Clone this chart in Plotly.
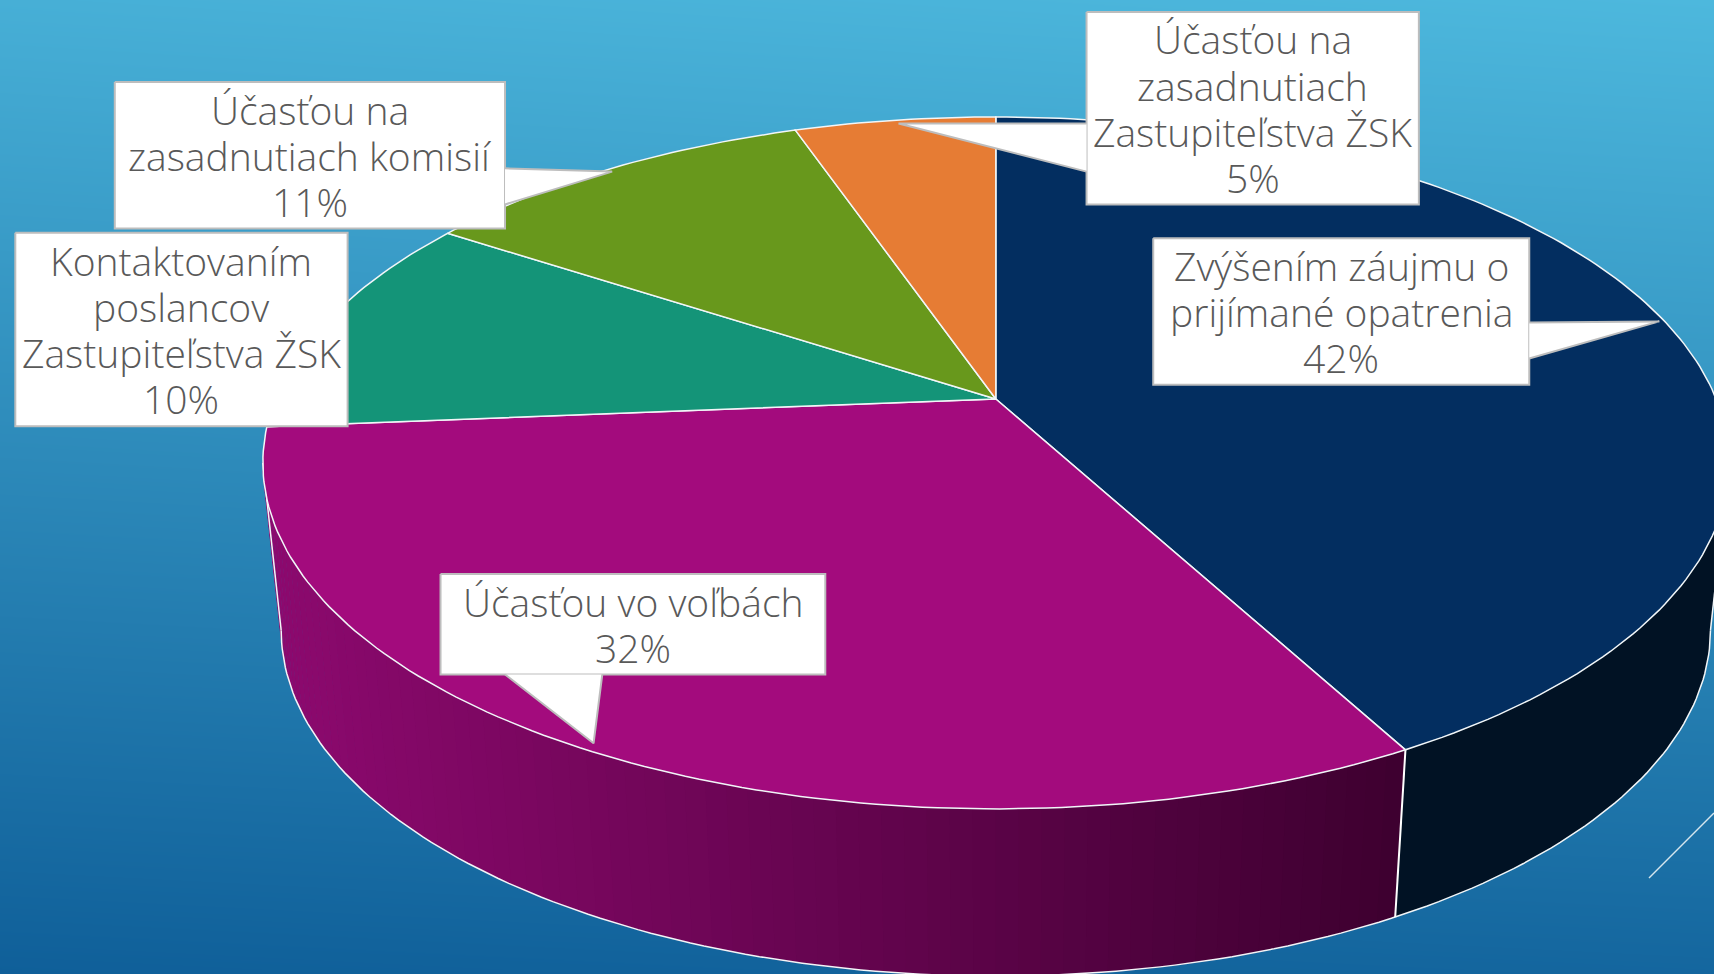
import math
import plotly.graph_objects as go

# ---- data ----
CATEGORIES = [
    "Zvýšením záujmu o<br>prijímané opatrenia",
    "Účasťou vo voľbách",
    "Kontaktovaním<br>poslancov<br>Zastupiteľstva ŽSK",
    "Účasťou na<br>zasadnutiach komisií",
    "Účasťou na<br>zasadnutiach<br>Zastupiteľstva ŽSK",
]
VALUES = [42.1, 31.6, 10.49, 10.51, 5.3]
PERCENT_LABELS = ["42%", "32%", "10%", "11%", "5%"]
SLICE_COLORS = ["#032e60", "#a30b7d", "#149478", "#68981c", "#e67c34"]

# ---- page and projection geometry (pixels of the 1714x974 page) ----
W, H = 1714, 974
S = 1714 / 1568
CX, CY = 911 * S, 365 * S
RX, RY, PERSP = 659 * S, 305.7 * S, 0.1848
WALL_SHRINK, WALL_DROP = 0.975, 153 * S
TANGENT = math.degrees(math.asin(PERSP))
FONT = "Open Sans"
FONT_SIZE = 39
FONT_WEIGHT = 300
LINE_STEP = 46.2
TEXT_COLOR = "#595959"
BORDER = "#bdbdbd"
RIM = "#f2f6f8"

# callout: box (x0, y0, x1, y1) and pointer vertices, in reference-shrunk pixels
CALLOUTS = [
    ((1055, 218, 1399, 352), [(1399, 295), (1518, 294), (1399, 328)]),
    ((403, 525, 755, 617), [(551, 617), (543, 680), (462, 617)]),
    ((14, 213, 318, 390), []),
    ((105, 75, 462, 209), [(462, 154), (560, 157), (462, 187)]),
    ((994, 11, 1298, 187), [(994, 157), (822, 113), (994, 113)]),
]


def top(angle):
    t = math.radians(angle)
    x, y = math.sin(t), math.cos(t)
    w = 1 + PERSP * y
    return CX + RX * x / w, CY - RY * y / w


def low(angle):
    x, y = top(angle)
    return CX + (x - CX) * WALL_SHRINK, y + WALL_DROP


def arc(fn, a0, a1, step=1.0):
    n = max(1, int(abs(a1 - a0) / step))
    return [fn(a0 + (a1 - a0) * i / n) for i in range(n + 1)]


def poly(pts, fill, line=None, width=0):
    return go.Scatter(
        x=[p[0] for p in pts], y=[p[1] for p in pts],
        mode="lines", fill="toself", fillcolor=fill,
        line=dict(color=line or fill, width=width),
        hoverinfo="skip", showlegend=False,
    )


def path(pts, color, width):
    return go.Scatter(
        x=[p[0] for p in pts], y=[p[1] for p in pts], mode="lines",
        line=dict(color=color, width=width),
        hoverinfo="skip", showlegend=False,
    )


def wall_color(x):
    f = min(1, max(0, (x - 270) / (1400 - 270)))
    c0, c1 = (140, 9, 110), (62, 0, 48)
    return "rgb(%d,%d,%d)" % tuple(round(a + (b - a) * f) for a, b in zip(c0, c1))


fig = go.Figure()

# background gradient: four corner levels
fig.add_trace(go.Heatmap(
    x=[0, W], y=[0, H], z=[[0.9, 1.0], [0.0, 0.08]], zsmooth="best",
    zmin=0, zmax=1, showscale=False, hoverinfo="skip",
    colorscale=[[0, "#0f5f99"], [1, "#4db8dd"]],
))

# slice boundaries (clockwise from 12 o'clock)
total = sum(VALUES)
edges = [0.0]
for v in VALUES:
    edges.append(edges[-1] + v / total * 360)

# side wall
a_right, a_left = 90 + TANGENT, 270 - TANGENT
seam = edges[1]
fig.add_trace(poly(arc(top, a_right, seam) + arc(low, seam, a_right), "#011224"))
n_seg = 72
for i in range(n_seg):
    a0 = seam + (a_left - seam) * i / n_seg
    a1 = seam + (a_left - seam) * (i + 1) / n_seg + 0.1
    c = wall_color(top((a0 + a1) / 2)[0])
    fig.add_trace(poly(arc(top, a0, a1, 0.5) + arc(low, a1, a0, 0.5), c, c, 0.5))

# wall outlines
fig.add_trace(path(arc(low, a_right, a_left), RIM, 1.5))
fig.add_trace(path([top(a_left), low(a_left)], RIM, 1.5))
fig.add_trace(path([top(a_right), low(a_right)], RIM, 1.5))
fig.add_trace(path([top(seam), low(seam)], "#ffffff", 2))

# top face slices
for i, col in enumerate(SLICE_COLORS):
    pts = [(CX, CY)] + arc(top, edges[i], edges[i + 1]) + [(CX, CY)]
    fig.add_trace(poly(pts, col, RIM, 1.5))

# small decorative slide line
fig.add_trace(path([(1649, 878), (1714, 813)], "#d5e6ee", 1.5))

# callouts
annotations = []
for (box, ptr), cat, pct in zip(CALLOUTS, CATEGORIES, PERCENT_LABELS):
    x0, y0, x1, y1 = box
    corners = [(x0, y0), (x1, y0), (x1, y1), (x0, y1), (x0, y0)]
    fig.add_trace(poly([(x * S, y * S) for x, y in corners], "#ffffff", BORDER, 2))
    if ptr:
        fig.add_trace(poly([(x * S, y * S) for x, y in ptr], "#ffffff"))
        fig.add_trace(path([(x * S, y * S) for x, y in ptr], BORDER, 2))
    lines = cat.split("<br>") + [pct]
    for j, line in enumerate(lines):
        annotations.append(dict(
            x=(x0 + x1) / 2 * S,
            y=(y0 + y1) / 2 * S + (j - (len(lines) - 1) / 2) * LINE_STEP,
            xref="x", yref="y", text=line, showarrow=False, align="center",
            xanchor="center", yanchor="middle",
            font=dict(family=FONT, size=FONT_SIZE, color=TEXT_COLOR, weight=FONT_WEIGHT),
        ))

fig.update_layout(
    width=W, height=H, margin=dict(l=0, r=0, t=0, b=0),
    xaxis=dict(range=[0, W], visible=False, fixedrange=True),
    yaxis=dict(range=[H, 0], visible=False, fixedrange=True),
    paper_bgcolor="#2f8fbb", plot_bgcolor="#2f8fbb",
    annotations=annotations, showlegend=False,
)
fig.write_html("out.html", post_script="document.body.style.margin='0';",
               config=dict(displayModeBar=False))
